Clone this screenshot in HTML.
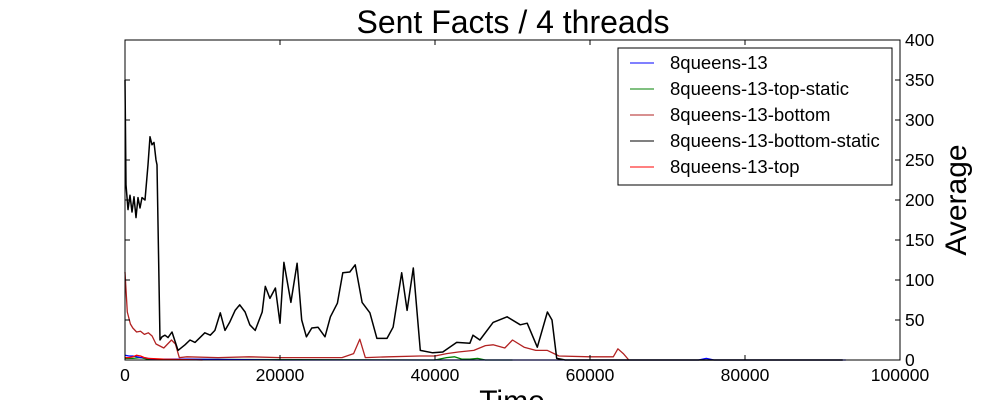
<!DOCTYPE html>
<html><head><meta charset="utf-8"><style>
body{margin:0;background:#fff;}
svg text{font-family:"Liberation Sans",sans-serif;}
</style></head><body>
<svg id="chart" width="1000" height="400" xmlns="http://www.w3.org/2000/svg">
<text x="513" y="33" font-size="32" text-anchor="middle">Sent Facts / 4 threads</text>
<g id="plot"></g>
<rect x="125" y="40" width="775" height="320" fill="none" stroke="#000" stroke-width="1"/>
<g id="ticks"></g>
<text transform="translate(966,200) rotate(-90)" font-size="30" text-anchor="middle">Average</text>
<text x="512" y="411" font-size="30" text-anchor="middle">Time</text>
<g>
<rect x="618" y="48" width="274" height="137" fill="#fff" stroke="#000" stroke-width="1"/>
<g id="legend-entries"></g>
</g>
</svg>
<script>
const xTicks=[0,20000,40000,60000,80000,100000];
const yTicks=[0,50,100,150,200,250,300,350,400];
const seriesNames=["8queens-13","8queens-13-top-static","8queens-13-bottom","8queens-13-bottom-static","8queens-13-top"];
const seriesColors=["#0000ff","#008000","#b22222","#000000","#ff0000"];
const blackX=[0,130,390,650,900,1160,1420,1680,1940,2190,2580,2970,3230,3480,3740,4000,4130,4520,4770,5160,5550,6060,6840,7740,8390,9030,9680,10300,11000,11600,12300,12900,13500,14200,14800,15500,16100,16800,17700,18100,18700,19400,20000,20500,21400,22200,22800,23400,24100,24900,25800,26500,27400,28100,29000,29700,30600,31600,32500,33800,34600,35700,36400,37200,38100,39700,41000,42800,44500,44900,45800,47500,49300,51000,51900,53200,54500,55100,55700,56800,70000,92600];
const blackY=[350,219,188,206,185,204,178,203,190,203,200,244,279,269,272,250,244,25,29,31,28,35,12,19,25,22,28,34,31,37,59,37,47,62,69,60,44,37,60,92,77,90,46,122,72,121,50,29,40,41,29,54,71,109,110,119,72,59,27,27,41,109,62,115,12,9,10,22,21,31,25,47,54,44,46,16,60,50,2,0,0,0];
const brownX=[0,300,700,1000,1500,2000,2500,3000,3500,4000,5000,6000,6500,7000,8000,12000,16000,20000,24000,28000,29500,30300,31000,34000,38000,40000,41500,43000,45000,46500,47500,49000,50000,51500,53000,54500,56000,60000,63000,63600,64300,65000];
const brownY=[110,60,45,40,35,36,32,34,30,20,15,25,20,3,4,3,4,3,3,3,8,26,3,4,5,5,8,10,12,18,19,15,25,16,12,12,5,4,4,14,8,0];
const blueX=[0,500,1000,1500,2000,2500,3000,4000,6000,8000,20000,40000,60000,74000,75000,76000,93000];
const blueY=[6,5,5,4,3,3,2,1,1,1,0,0,0,0,2,0,0];
const greenX=[0,1000,2000,3000,40000,41500,42500,43500,44500,45500,46500,50000];
const greenY=[2,2,3,1,0,3,4,1,1,2,0,0];
const redX=[0,500,1000,1500,2000,2500,3000,5000,10000];
const redY=[3,3,4,6,5,3,2,1,0];

const X0=125,X1=900,Y0=360,Y1=40;
const sx=v=>X0+(v-0)/(100000)*(X1-X0);
const sy=v=>Y0-(v/400)*(Y0-Y1);
const NS="http://www.w3.org/2000/svg";
const plot=document.getElementById('plot');
function line(xs,ys,color,name,w){
  const p=document.createElementNS(NS,'path');
  p.setAttribute('d',xs.map((x,i)=>(i?'L':'M')+sx(x).toFixed(1)+','+sy(ys[i]).toFixed(1)).join(''));
  p.setAttribute('fill','none');p.setAttribute('stroke',color);p.setAttribute('stroke-width',w);
  p.setAttribute('stroke-linejoin','round');
  
  
  plot.appendChild(p);
}
line(greenX,greenY,seriesColors[1],'series-top-static','1.3');
line(blueX,blueY,seriesColors[0],'series-8queens-13','1.3');
line(redX,redY,seriesColors[4],'series-top','1.3');
line(brownX,brownY,seriesColors[2],'series-bottom','1.3');
line(blackX,blackY,seriesColors[3],'series-bottom-static','1.5');

const tg=document.getElementById('ticks');
xTicks.forEach(t=>{
  const x=sx(t);
  ['M'+x+','+Y0+'v-5','M'+x+','+Y1+'v5'].forEach(d=>{
    const p=document.createElementNS(NS,'path');p.setAttribute('d',d);p.setAttribute('stroke','#000');
    
    
    tg.appendChild(p);});
  const tx=document.createElementNS(NS,'text');
  tx.setAttribute('x',x);tx.setAttribute('y',381);tx.setAttribute('font-size','17.5');tx.setAttribute('text-anchor','middle');
  tx.textContent=t;
  
  
  tg.appendChild(tx);
});
yTicks.forEach(t=>{
  const y=sy(t);
  ['M'+X1+','+y+'h-5','M'+X0+','+y+'h5'].forEach(d=>{
    const p=document.createElementNS(NS,'path');p.setAttribute('d',d);p.setAttribute('stroke','#000');
    
    
    tg.appendChild(p);});
  const tx=document.createElementNS(NS,'text');
  tx.setAttribute('x',905);tx.setAttribute('y',y+6);tx.setAttribute('font-size','17.5');
  tx.textContent=t;
  
  
  tg.appendChild(tx);
});
const lg=document.getElementById('legend-entries');
seriesNames.forEach((n,i)=>{
  const y=63+i*26;
  const l=document.createElementNS(NS,'path');l.setAttribute('d','M630,'+y+'h24');l.setAttribute('stroke',seriesColors[i]);
  
  
  lg.appendChild(l);
  const tx=document.createElementNS(NS,'text');tx.setAttribute('x',670);tx.setAttribute('y',y+6);tx.setAttribute('font-size','18.5');
  tx.textContent=n;
  
  
  lg.appendChild(tx);
});
</script>
</body></html>
